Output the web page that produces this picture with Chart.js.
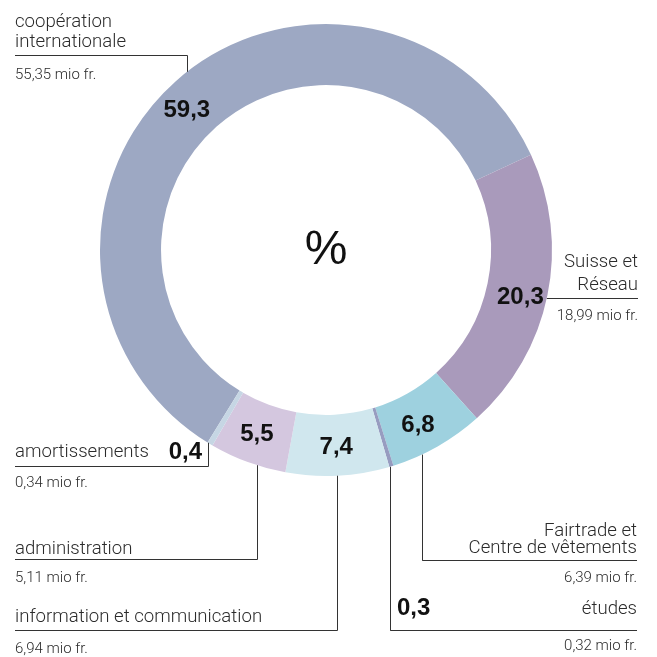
<!DOCTYPE html>
<html>
<head>
<meta charset="utf-8">
<script src="https://cdn.jsdelivr.net/npm/chart.js@4"></script>
<style>
  html, body { margin: 0; padding: 0; background: #fff; }
  #wrap { width: 657px; height: 657px; }
</style>
</head>
<body>
<div id="wrap"><canvas id="c" width="657" height="657"></canvas></div>
<script>
// ---- data ----
const categories = [
  'coopération internationale',
  'Suisse et Réseau',
  'Fairtrade et Centre de vêtements',
  'études',
  'information et communication',
  'administration',
  'amortissements'
];
const percentages = [59.3, 20.3, 6.8, 0.3, 7.4, 5.5, 0.4];
const amountsMio = [55.35, 18.99, 6.39, 0.32, 6.94, 5.11, 0.34];
const colors = ['#9da8c3', '#a99abb', '#9ed1df', '#979cc0', '#d0e7ee', '#d4c7df', '#c6d6e4'];
const centerLabel = '%';

// ---- layout of annotations (positions / styles only) ----
const FONT_LIGHT = '300 18.6px Roboto, "Liberation Sans", sans-serif';
const FONT_SMALL = '300 15px Roboto, "Liberation Sans", sans-serif';
const FONT_BOLD = 'bold 24px "Liberation Sans", Arial, sans-serif';
const INK = '#2b2b2b';

// inside value labels: index -> angular tweak (deg) and radius
const insideLabels = [
  {i: 0, dAng: -3.3, r: 197},
  {i: 1, dAng: 2.0, r: 200},
  {i: 2, dAng: 1.9, r: 198},
  {i: 4, dAng: 0, r: 198},
  {i: 5, dAng: 0.3, r: 197}
];

const annotations = [
  {i: 0, align: 'left', x: 15, names: [['coopération', 27], ['internationale', 47]],
   lineY: 55, x0: 15, x1: 187, vx: 187, side: -1, amountY: 79},
  {i: 1, align: 'right', x: 638, names: [['Suisse et', 267], ['Réseau', 290]],
   lineY: 298, x0: null, x1: 638, hRing: true, amountY: 320},
  {i: 2, align: 'right', x: 637, names: [['Fairtrade et', 536], ['Centre de vêtements', 553]],
   lineY: 560, x0: 422, x1: 637, vx: 422, side: 1, amountY: 582},
  {i: 3, align: 'right', x: 637, names: [['études', 614]], value: {x: 397, y: 615, align: 'left'},
   lineY: 630, x0: 390, x1: 637, vx: 390, side: 1, amountY: 650},
  {i: 4, align: 'left', x: 15, names: [['information et communication', 622]],
   lineY: 630, x0: 15, x1: 337, vx: 337, side: 1, amountY: 653},
  {i: 5, align: 'left', x: 15, names: [['administration', 554]],
   lineY: 559, x0: 15, x1: 257, vx: 257, side: 1, amountY: 582},
  {i: 6, align: 'left', x: 15, names: [['amortissements', 457]], value: {x: 202, y: 459, align: 'right'},
   lineY: 466, x0: 15, x1: 208, vx: 208, side: 1, amountY: 487}
];

const fmt = (v, d) => v.toFixed(d).replace('.', ',');

const labelPlugin = {
  id: 'labels',
  afterDraw(chart) {
    const ctx = chart.ctx;
    const meta = chart.getDatasetMeta(0);
    const arc0 = meta.data[0];
    const cx = arc0.x, cy = arc0.y, R = arc0.outerRadius;
    ctx.save();

    // center label
    ctx.fillStyle = '#111';
    ctx.font = '48px "Liberation Sans", Arial, sans-serif';
    ctx.textAlign = 'center';
    ctx.textBaseline = 'middle';
    ctx.fillText(centerLabel, cx, cy + 1);

    // inside value labels
    ctx.font = FONT_BOLD;
    ctx.fillStyle = '#111';
    insideLabels.forEach(l => {
      const a = meta.data[l.i];
      const mid = (a.startAngle + a.endAngle) / 2 + l.dAng * Math.PI / 180;
      ctx.fillText(fmt(percentages[l.i], 1), cx + l.r * Math.cos(mid), cy + l.r * Math.sin(mid));
    });

    // annotations
    ctx.strokeStyle = '#333';
    ctx.lineWidth = 1;
    annotations.forEach(an => {
      ctx.textBaseline = 'alphabetic';
      ctx.fillStyle = INK;
      ctx.font = FONT_LIGHT;
      ctx.textAlign = an.align;
      an.names.forEach(([t, y]) => ctx.fillText(t, an.x, y));
      ctx.font = FONT_SMALL;
      ctx.fillText(fmt(amountsMio[an.i], 2) + ' mio fr.', an.x, an.amountY);
      if (an.value) {
        ctx.font = FONT_BOLD;
        ctx.fillStyle = '#111';
        ctx.textAlign = an.value.align;
        ctx.fillText(fmt(percentages[an.i], 1), an.value.x, an.value.y);
      }
      ctx.beginPath();
      if (an.hRing) {
        const dy = an.lineY - cy;
        const xr = cx + Math.sqrt(R * R - dy * dy);
        ctx.moveTo(xr, an.lineY + 0.5);
        ctx.lineTo(an.x1, an.lineY + 0.5);
      } else {
        const dx = an.vx - cx;
        const yr = cy + an.side * Math.sqrt(R * R - dx * dx);
        ctx.moveTo(an.x0, an.lineY + 0.5);
        ctx.lineTo(an.vx + 0.5, an.lineY + 0.5);
        ctx.lineTo(an.vx + 0.5, yr);
        if (an.x1 > an.vx) {
          ctx.moveTo(an.vx + 0.5, an.lineY + 0.5);
          ctx.lineTo(an.x1, an.lineY + 0.5);
        }
      }
      ctx.stroke();
    });
    ctx.restore();
  }
};

new Chart(document.getElementById('c'), {
  type: 'doughnut',
  data: {
    labels: categories,
    datasets: [{
      data: percentages,
      backgroundColor: colors,
      borderWidth: 0,
      hoverOffset: 0
    }]
  },
  options: {
    responsive: false,
    animation: false,
    cutout: '73%',
    rotation: 211.6,
    layout: {padding: {left: 100, top: 24, right: 105, bottom: 181}},
    plugins: {legend: {display: false}, tooltip: {enabled: false}}
  },
  plugins: [labelPlugin]
});
</script>
</body>
</html>
